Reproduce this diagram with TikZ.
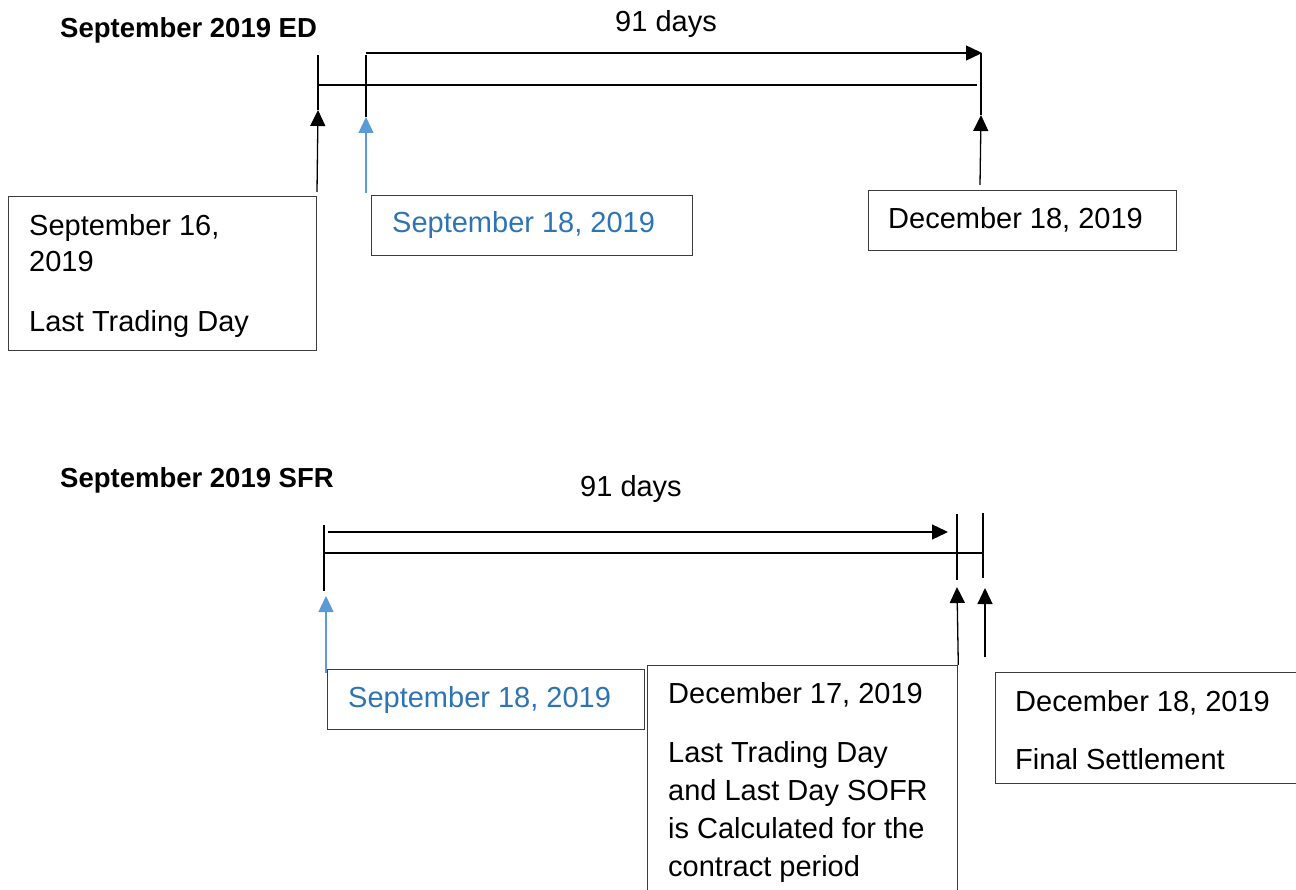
\documentclass[tikz,border=0pt]{standalone}
\usepackage{fontspec}
\setmainfont{Liberation Sans}
\usetikzlibrary{arrows.meta,calc}
\definecolor{bluetext}{RGB}{46,116,181}
\definecolor{bluearrow}{RGB}{91,155,213}
\definecolor{boxline}{RGB}{60,60,60}
\begin{document}
\begin{tikzpicture}[x=1pt,y=-1pt,
 box/.style={draw=boxline,line width=1.3pt},
 lbl/.style={anchor=base west,inner sep=0,font=\fontsize{29}{36}\selectfont},
 ttl/.style={anchor=base west,inner sep=0,font=\fontsize{27.5}{33}\selectfont\bfseries},
 tickline/.style={line width=1.3pt},
 arr/.style={line width=1.3pt,-{Triangle[length=16pt,width=15pt]}},
 barr/.style={arr,draw=bluearrow,fill=bluearrow},
]
\useasboundingbox (0,0) rectangle (1296,890);

% ---------------- top: ED ----------------
\node[ttl] (title1) at (60,38) {September 2019 ED};
\node[lbl,anchor=base] (days1) at (666,32) {91 days};

\coordinate (a1s) at (366,53);
\coordinate (a1e) at (982,53);
\draw[arr] (a1s) -- (a1e);

\coordinate (h1s) at (318,85);
\coordinate (h1e) at (977,85);
\draw[tickline] (h1s) -- (h1e);

% ticks
\coordinate (k1t) at (318,55);  \coordinate (k1b) at (318,110);
\coordinate (k2t) at (366,55);  \coordinate (k2b) at (366,117);
\coordinate (k3t) at (981,53);  \coordinate (k3b) at (981,115);
\draw[tickline] (k1t) -- (k1b);
\draw[tickline] (k2t) -- (k2b);
\draw[tickline] (k3t) -- (k3b);

% boxes
\node[box,anchor=north west,minimum width=308,minimum height=154,inner sep=0] (b1) at (8,196) {};
\node[box,anchor=north west,minimum width=321,minimum height=60,inner sep=0] (b2) at (371,195) {};
\node[box,anchor=north west,minimum width=308,minimum height=60,inner sep=0] (b3) at (868,190) {};

\node[lbl] (t1a) at (29,236) {September 16,};
\node[lbl] (t1b) at (29,272) {2019};
\node[lbl] (t1c) at (29,332) {Last Trading Day};
\node[lbl,text=bluetext] (t2) at (392,233) {September 18, 2019};
\node[lbl] (t3) at (888,229) {December 18, 2019};

% arrows from boxes
\coordinate (p1) at (317,192);
\coordinate (p2) at (366,193);
\coordinate (p3) at (980,185);
\draw[arr] (p1) -- (k1b);
\draw[barr] (p2) -- (k2b);
\draw[arr] (p3) -- (k3b);

% ---------------- bottom: SFR ----------------
\node[ttl] (title2) at (60,487) {September 2019 SFR};
\node[lbl,anchor=base] (days2) at (631,496) {91 days};

\coordinate (a2s) at (328,532);
\coordinate (a2e) at (948,532);
\draw[arr] (a2s) -- (a2e);

\coordinate (h2s) at (324,553);
\coordinate (h2e) at (982,553);
\draw[tickline] (h2s) -- (h2e);

\coordinate (k4t) at (324,525);  \coordinate (k4b) at (324,591);
\coordinate (k5t) at (957,514);  \coordinate (k5b) at (957,580);
\coordinate (k6t) at (983,513);  \coordinate (k6b) at (983,578);
\draw[tickline] (k4t) -- (k4b);
\draw[tickline] (k5t) -- (k5b);
\draw[tickline] (k6t) -- (k6b);

\node[box,anchor=north west,minimum width=317,minimum height=60,inner sep=0] (b4) at (327,669) {};
\node[box,anchor=north west,minimum width=310,minimum height=240,inner sep=0] (b5) at (647,665) {};
\node[box,anchor=north west,minimum width=320,minimum height=111,inner sep=0] (b6) at (995,672) {};

\node[lbl,text=bluetext] (t4) at (348,707) {September 18, 2019};
\node[lbl] (t5a) at (668,703) {December 17, 2019};
\node[lbl] (t5b) at (668,762) {Last Trading Day};
\node[lbl] (t5c) at (668,800) {and Last Day SOFR};
\node[lbl] (t5d) at (668,838) {is Calculated for the};
\node[lbl] (t5e) at (668,876) {contract period};
\node[lbl] (t6a) at (1015,711) {December 18, 2019};
\node[lbl] (t6b) at (1015,769) {Final Settlement};

\coordinate (q4) at (326,673);  \coordinate (q4t) at (326,596);
\coordinate (q5t) at (957,587);
\coordinate (q6) at (985,657);  \coordinate (q6t) at (985,588);
\draw[barr] (q4) -- (q4t);
\draw[arr] (b5.north east) -- (q5t);
\draw[arr] (q6) -- (q6t);
\end{tikzpicture}
\end{document}
